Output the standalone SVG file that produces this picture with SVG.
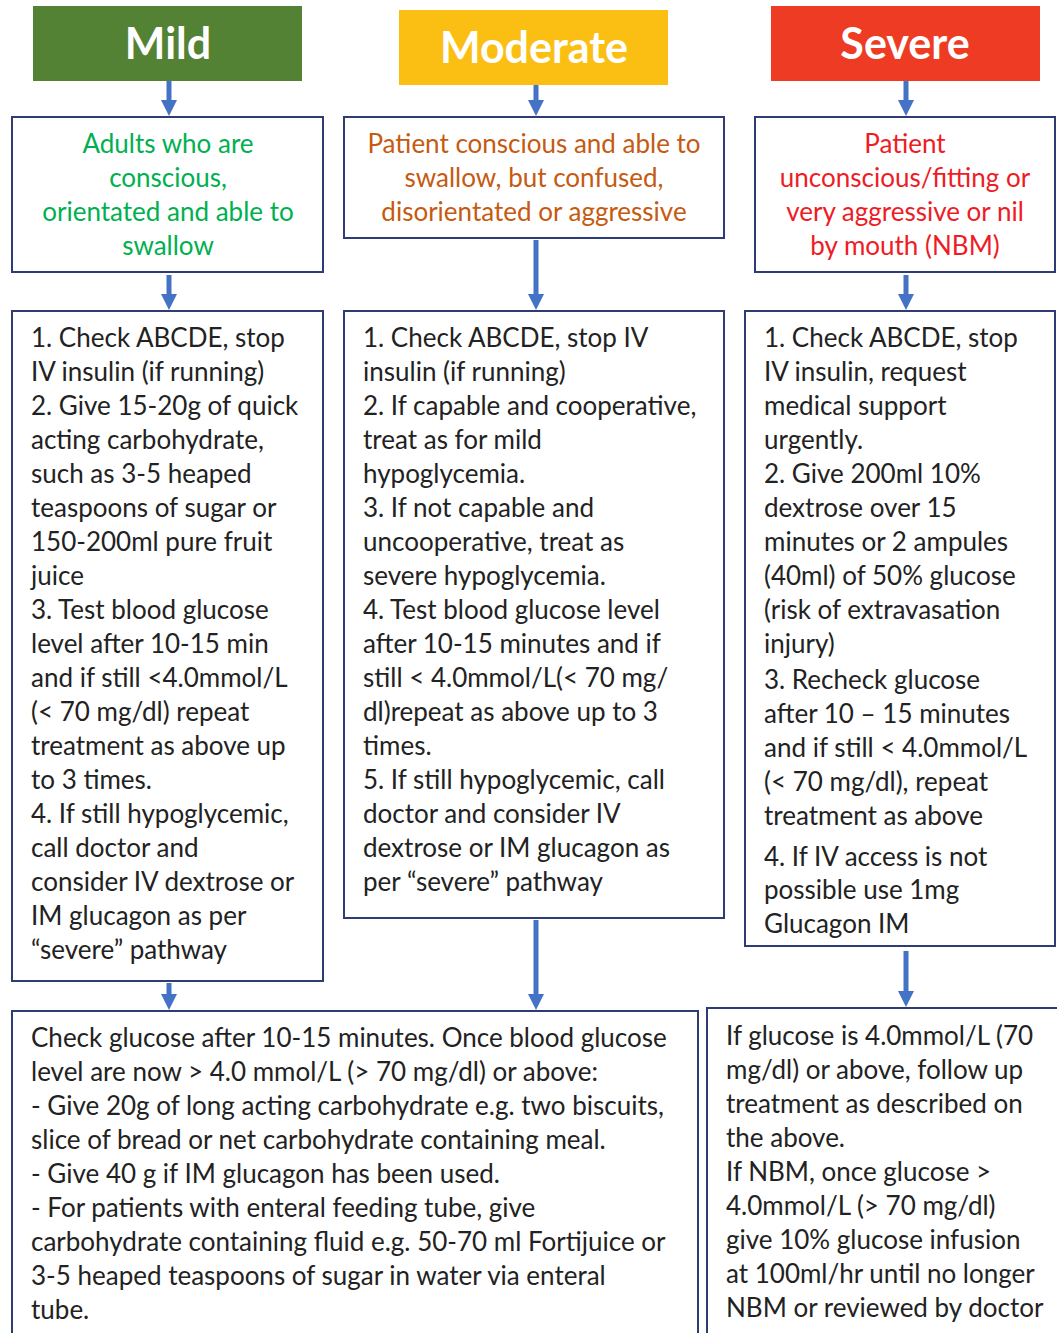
<svg xmlns="http://www.w3.org/2000/svg" width="1057" height="1333" viewBox="0 0 1057 1333">
<style>
.hdr{font-family:Lato,"Open Sans",sans-serif;font-weight:bold;font-size:43px;fill:#fff;text-anchor:middle}
.box{fill:#fff;stroke:#2F3B73;stroke-width:2}
.t{font-family:Lato,"Open Sans",sans-serif;font-size:26px;fill:#222}
.c{font-family:Lato,"Open Sans",sans-serif;font-size:26px;text-anchor:middle}
.ln{stroke:#4472C4;stroke-width:5;fill:none}
.hd{fill:#4472C4}
</style>
<rect width="1057" height="1333" fill="#fff"/>
<g id="connectors">
<path class="ln" d="M169 81V102M536 85V102M906 81V102M169 275V296M536 240V296M906 275V296M169 983V996M536 920V996M906 951V993"/>
<path class="hd" d="M161 100H177L169 116ZM528 100H544L536 116ZM898 100H914L906 116ZM161 294H177L169 310ZM528 294H544L536 310ZM898 294H914L906 310ZM161 994H177L169 1010ZM528 994H544L536 1010ZM898 991H914L906 1007Z"/>
</g>
<g id="mild-header"><rect x="33" y="6" width="269" height="75" fill="#548235"/><text class="hdr" x="168" y="59">Mild</text></g>
<g id="moderate-header"><rect x="399" y="10" width="269" height="75" fill="#FBBF14"/><text class="hdr" x="534" y="63">Moderate</text></g>
<g id="severe-header"><rect x="771" y="6" width="269" height="75" fill="#EE3B24"/><text class="hdr" x="905" y="59">Severe</text></g>
<g id="mild-cond"><rect class="box" x="12" y="117" width="311" height="155"/>
<text class="c" fill="#00B050"><tspan x="168" y="153">Adults who are</tspan><tspan x="168" y="187">conscious,</tspan><tspan x="168" y="221">orientated and able to</tspan><tspan x="168" y="255">swallow</tspan></text></g>
<g id="moderate-cond"><rect class="box" x="344" y="117" width="380" height="121"/>
<text class="c" fill="#C55A11"><tspan x="534" y="153">Patient conscious and able to</tspan><tspan x="534" y="187">swallow, but confused,</tspan><tspan x="534" y="221">disorientated or aggressive</tspan></text></g>
<g id="severe-cond"><rect class="box" x="755" y="117" width="300" height="155"/>
<text class="c" fill="#EE1C25"><tspan x="905" y="153">Patient</tspan><tspan x="905" y="187">unconscious/fitting or</tspan><tspan x="905" y="221">very aggressive or nil</tspan><tspan x="905" y="255">by mouth (NBM)</tspan></text></g>
<g id="mild-steps"><rect class="box" x="12" y="311" width="311" height="670"/>
<text class="t"><tspan x="31" y="347">1. Check ABCDE, stop</tspan><tspan x="31" y="381">IV insulin (if running)</tspan><tspan x="31" y="415">2. Give 15-20g of quick</tspan><tspan x="31" y="449">acting carbohydrate,</tspan><tspan x="31" y="483">such as 3-5 heaped</tspan><tspan x="31" y="517">teaspoons of sugar or</tspan><tspan x="31" y="551">150-200ml pure fruit</tspan><tspan x="31" y="585">juice</tspan><tspan x="31" y="619">3. Test blood glucose</tspan><tspan x="31" y="653">level after 10-15 min</tspan><tspan x="31" y="687">and if still &lt;4.0mmol/L</tspan><tspan x="31" y="721">(&lt; 70 mg/dl) repeat</tspan><tspan x="31" y="755">treatment as above up</tspan><tspan x="31" y="789">to 3 times.</tspan><tspan x="31" y="823">4. If still hypoglycemic,</tspan><tspan x="31" y="857">call doctor and</tspan><tspan x="31" y="891">consider IV dextrose or</tspan><tspan x="31" y="925">IM glucagon as per</tspan><tspan x="31" y="959">“severe” pathway</tspan></text></g>
<g id="moderate-steps"><rect class="box" x="344" y="311" width="380" height="607"/>
<text class="t"><tspan x="363" y="347">1. Check ABCDE, stop IV</tspan><tspan x="363" y="381">insulin (if running)</tspan><tspan x="363" y="415">2. If capable and cooperative,</tspan><tspan x="363" y="449">treat as for mild</tspan><tspan x="363" y="483">hypoglycemia.</tspan><tspan x="363" y="517">3. If not capable and</tspan><tspan x="363" y="551">uncooperative, treat as</tspan><tspan x="363" y="585">severe hypoglycemia.</tspan><tspan x="363" y="619">4. Test blood glucose level</tspan><tspan x="363" y="653">after 10-15 minutes and if</tspan><tspan x="363" y="687">still &lt; 4.0mmol/L(&lt; 70 mg/</tspan><tspan x="363" y="721">dl)repeat as above up to 3</tspan><tspan x="363" y="755">times.</tspan><tspan x="363" y="789">5. If still hypoglycemic, call</tspan><tspan x="363" y="823">doctor and consider IV</tspan><tspan x="363" y="857">dextrose or IM glucagon as</tspan><tspan x="363" y="891">per “severe” pathway</tspan></text></g>
<g id="severe-steps"><rect class="box" x="745" y="311" width="310" height="635"/>
<text class="t"><tspan x="764" y="347">1. Check ABCDE, stop</tspan><tspan x="764" y="381">IV insulin, request</tspan><tspan x="764" y="415">medical support</tspan><tspan x="764" y="449">urgently.</tspan><tspan x="764" y="483">2. Give 200ml 10%</tspan><tspan x="764" y="517">dextrose over 15</tspan><tspan x="764" y="551">minutes or 2 ampules</tspan><tspan x="764" y="585">(40ml) of 50% glucose</tspan><tspan x="764" y="619">(risk of extravasation</tspan><tspan x="764" y="653">injury)</tspan><tspan x="764" y="689">3. Recheck glucose</tspan><tspan x="764" y="723">after 10 – 15 minutes</tspan><tspan x="764" y="757">and if still &lt; 4.0mmol/L</tspan><tspan x="764" y="791">(&lt; 70 mg/dl), repeat</tspan><tspan x="764" y="825">treatment as above</tspan><tspan x="764" y="866">4. If IV access is not</tspan><tspan x="764" y="899">possible use 1mg</tspan><tspan x="764" y="933">Glucagon IM</tspan></text></g>
<g id="followup-left"><rect class="box" x="12" y="1011" width="686" height="340"/>
<text class="t"><tspan x="31" y="1047">Check glucose after 10-15 minutes. Once blood glucose</tspan><tspan x="31" y="1081">level are now &gt; 4.0 mmol/L (&gt; 70 mg/dl) or above:</tspan><tspan x="31" y="1115">- Give 20g of long acting carbohydrate e.g. two biscuits,</tspan><tspan x="31" y="1149">slice of bread or net carbohydrate containing meal.</tspan><tspan x="31" y="1183">- Give 40 g if IM glucagon has been used.</tspan><tspan x="31" y="1217">- For patients with enteral feeding tube, give</tspan><tspan x="31" y="1251">carbohydrate containing fluid e.g. 50-70 ml Fortijuice or</tspan><tspan x="31" y="1285">3-5 heaped teaspoons of sugar in water via enteral</tspan><tspan x="31" y="1319">tube.</tspan></text></g>
<g id="followup-right"><rect class="box" x="707" y="1008" width="360" height="340"/>
<text class="t"><tspan x="726" y="1045">If glucose is 4.0mmol/L (70</tspan><tspan x="726" y="1079">mg/dl) or above, follow up</tspan><tspan x="726" y="1113">treatment as described on</tspan><tspan x="726" y="1147">the above.</tspan><tspan x="726" y="1181">If NBM, once glucose &gt;</tspan><tspan x="726" y="1215">4.0mmol/L (&gt; 70 mg/dl)</tspan><tspan x="726" y="1249">give 10% glucose infusion</tspan><tspan x="726" y="1283">at 100ml/hr until no longer</tspan><tspan x="726" y="1317">NBM or reviewed by doctor</tspan></text></g>
</svg>
